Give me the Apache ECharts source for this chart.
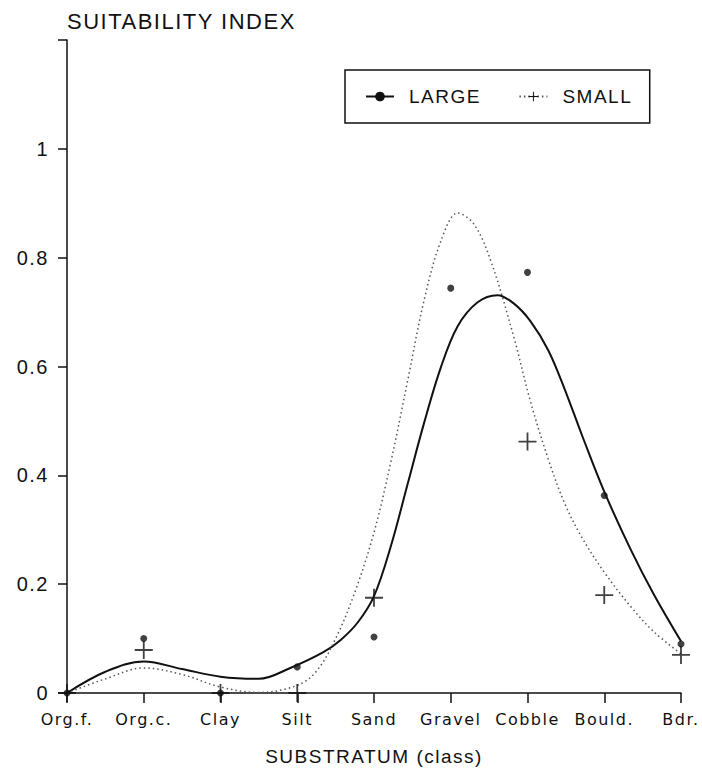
<!DOCTYPE html>
<html>
<head>
<meta charset="utf-8">
<script src="https://cdn.jsdelivr.net/npm/echarts@6.0.0/dist/echarts.min.js"></script>
<style>
  html, body { margin: 0; padding: 0; background: #fff; }
  #chart { width: 702px; height: 778px; }
  /* the scanned lettering is spread wider than any installed font */
  #chart text { letter-spacing: 1.5px; }
</style>
</head>
<body>
<div id="chart"></div>
<script>
// substrate classes along the x axis
const categories = ['Org.f.', 'Org.c.', 'Clay', 'Silt', 'Sand', 'Gravel', 'Cobble', 'Bould.', 'Bdr.'];

// observed suitability per class (null = no point drawn)
const largeObserved = [0, 0.1, 0, 0.048, 0.103, 0.744, 0.773, 0.363, 0.09];
const smallObserved = [0, 0.079, 0, 0, 0.175, null, 0.462, 0.18, 0.07];

// fitted curves, points (x in class units)
const largeCurveX = [0, 0.5, 1, 1.5, 2, 2.5, 2.91, 3.34, 3.57, 3.79, 4, 4.22, 4.44, 4.65, 4.87, 5.09, 5.35, 5.61, 5.82, 6.04, 6.27, 6.48, 6.72, 7, 7.35, 7.65, 8];
const largeCurveY = [0, 0.039, 0.058, 0.044, 0.03, 0.026, 0.046, 0.075, 0.098, 0.13, 0.178, 0.27, 0.385, 0.495, 0.598, 0.674, 0.718, 0.731, 0.716, 0.683, 0.63, 0.56, 0.47, 0.37, 0.262, 0.18, 0.095];
const smallCurveX = [0, 0.5, 1, 1.5, 2, 2.5, 3, 3.25, 3.5, 3.75, 4, 4.22, 4.44, 4.65, 4.87, 5.09, 5.3, 5.52, 5.82, 6.04, 6.27, 6.48, 6.7, 7, 7.35, 7.65, 8];
const smallCurveY = [0, 0.026, 0.046, 0.034, 0.011, 0.001, 0.014, 0.04, 0.1, 0.185, 0.295, 0.425, 0.575, 0.72, 0.83, 0.882, 0.862, 0.795, 0.655, 0.535, 0.43, 0.35, 0.288, 0.222, 0.158, 0.112, 0.072];

const plus = 'path://M9,0H11V9H20V11H11V20H9V11H0V9H9Z';
const ink = '#111';

const chart = echarts.init(document.getElementById('chart'), null, { renderer: 'svg' });

const option = {
  animation: false,
  textStyle: { fontFamily: 'Liberation Sans, Arial, sans-serif', color: ink },
  grid: { left: 67, right: 21, top: 40, bottom: 85, outerBoundsMode: 'none' },
  legend: {
    data: ['LARGE', 'SMALL'],
    left: 345,
    top: 70,
    padding: [17, 25, 17, 20],
    itemWidth: 28,
    itemHeight: 12,
    itemGap: 45,
    borderColor: ink,
    borderWidth: 1.5,
    selectedMode: false,
    textStyle: { fontSize: 19, color: ink, padding: [0, 0, 0, 10] }
  },
  xAxis: {
    type: 'value',
    min: 0,
    max: 8,
    interval: 1,
    name: 'SUBSTRATUM (class)',
    nameLocation: 'middle',
    nameGap: 54,
    nameTextStyle: { fontSize: 19, color: ink },
    axisLine: { show: true, lineStyle: { color: ink, width: 1.5 } },
    axisTick: { show: true, length: 10, lineStyle: { color: ink, width: 1.5 } },
    axisLabel: {
      margin: 18,
      fontSize: 16,
      fontFamily: 'DejaVu Sans',
      color: ink,
      formatter: v => categories[v]
    },
    splitLine: { show: false }
  },
  yAxis: {
    type: 'value',
    min: 0,
    max: 1.2,
    interval: 0.2,
    name: 'SUITABILITY INDEX',
    nameLocation: 'end',
    nameGap: 8,
    nameTextStyle: { fontSize: 22, color: ink, align: 'left' },
    axisLine: { show: true, lineStyle: { color: ink, width: 1.5 } },
    axisTick: { show: true, length: 9, lineStyle: { color: ink, width: 1.5 } },
    axisLabel: {
      margin: 18,
      fontSize: 20,
      color: ink,
      formatter: v => (v > 1.1 ? '' : String(Math.round(v * 10) / 10))
    },
    splitLine: { show: false }
  },
  series: [
    {
      name: 'LARGE',
      type: 'line',
      data: largeCurveX.map((x, i) => [x, largeCurveY[i]]),
      smooth: 0.35,
      showSymbol: false,
      symbol: 'circle',
      symbolSize: 7,
      itemStyle: { color: ink },
      lineStyle: { color: ink, width: 2 }
    },
    {
      name: 'SMALL',
      type: 'line',
      data: smallCurveX.map((x, i) => [x, smallCurveY[i]]),
      smooth: 0.35,
      showSymbol: false,
      symbol: plus,
      symbolSize: 16,
      itemStyle: { color: ink },
      lineStyle: { color: '#555', width: 1.5, type: [1.5, 3] }
    },
    {
      name: 'LARGE points',
      type: 'scatter',
      data: largeObserved.map((v, i) => [i, v]).filter(d => d[1] !== null),
      symbol: 'circle',
      symbolSize: 7,
      itemStyle: { color: ink },
      z: 5
    },
    {
      name: 'SMALL points',
      type: 'scatter',
      data: smallObserved.map((v, i) => [i, v]).filter(d => d[1] !== null),
      symbol: plus,
      symbolSize: 18,
      itemStyle: { color: ink },
      z: 5
    }
  ]
};

chart.setOption(option);
</script>
</body>
</html>
